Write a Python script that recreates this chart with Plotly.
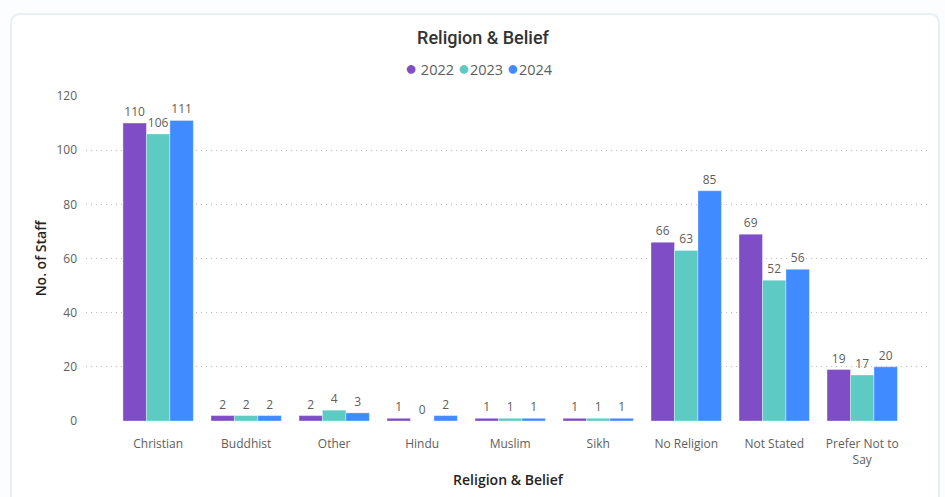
import plotly.graph_objects as go

# Staff counts by religion & belief, per year
categories = ["Christian", "Buddhist", "Other", "Hindu", "Muslim", "Sikh",
              "No Religion", "Not Stated", "Prefer Not to<br>Say"]
years = ["2022", "2023", "2024"]
values_2022 = [110, 2, 2, 1, 1, 1, 66, 69, 19]
values_2023 = [106, 2, 4, 0, 1, 1, 63, 52, 17]
values_2024 = [111, 2, 3, 2, 1, 1, 85, 56, 20]
y_ticks = [0, 20, 40, 60, 80, 100, 120]

colors = ["#7F4DC6", "#5ECAC4", "#3F8BFF"]
series = [values_2022, values_2023, values_2024]

W, H = 945, 497
L, R, T, B = 86, 15, 96, 76
plot_w = W - L - R
plot_h = H - T - B
FONT = "Segoe UI, Open Sans, sans-serif"

fig = go.Figure()

for name, vals, col in zip(years, series, colors):
    fig.add_trace(go.Bar(
        x=categories, y=vals, name=name,
        marker=dict(color=col, line=dict(color="rgba(255,255,255,0.35)", width=1)),
        text=[str(v) for v in vals], textposition="outside",
        textfont=dict(family=FONT, size=12, color="#605E5C"),
        cliponaxis=False, showlegend=False,
    ))


def px_to_paper_x(px):
    return (px - L) / plot_w


def px_to_paper_y(py):
    return (H - B - py) / plot_h


# rounded card behind the visual
x0, x1, y0, y1, r = 11, 939, 14, 520, 10
def P(px, py):
    return f"{px_to_paper_x(px):.5f},{px_to_paper_y(py):.5f}"

card_path = (
    f"M {P(x0 + r, y0)} L {P(x1 - r, y0)} Q {P(x1, y0)} {P(x1, y0 + r)} "
    f"L {P(x1, y1)} L {P(x0, y1)} L {P(x0, y0 + r)} Q {P(x0, y0)} {P(x0 + r, y0)} Z"
)
fig.add_shape(type="path", path=card_path, xref="paper", yref="paper",
              fillcolor="#FFFFFF", line=dict(color="#E6F0F5", width=2), layer="below")

# legend row: coloured dots followed by the year
legend_text = "".join(
    f"<span style='color:{col};font-size:20px'>●</span>"
    f"<span style='font-size:14.5px'>{'' if i else ' '}{name} </span>"
    for i, (name, col) in enumerate(zip(years, colors))
)
fig.add_annotation(text=legend_text.rstrip(), xref="paper", yref="paper",
                   x=px_to_paper_x(480), y=px_to_paper_y(68),
                   xanchor="center", yanchor="middle", showarrow=False,
                   font=dict(family=FONT, color="#605E5C"))

fig.update_layout(
    width=W, height=H,
    margin=dict(l=L, r=R, t=T, b=B, autoexpand=False),
    paper_bgcolor="#FBFDFE", plot_bgcolor="rgba(0,0,0,0)",
    barmode="group", bargap=0.2, bargroupgap=0,
    showlegend=False,
    font=dict(family=FONT, color="#605E5C"),
    title=dict(text="Religion & Belief", x=483 / W, xref="container", xanchor="center",
               y=1 - 38 / H, yref="container", yanchor="middle",
               font=dict(family="Roboto, sans-serif", size=18, color="#333333", weight=500)),
    xaxis=dict(
        range=[-0.82, 8.77], showgrid=False, showline=False, zeroline=False,
        ticks="", ticklabelstandoff=14,
        tickfont=dict(family=FONT, size=12, color="#605E5C"),
        title=dict(text="Religion & Belief", standoff=8,
                   font=dict(family=FONT, size=14, color="#252423", weight=600)),
    ),
    yaxis=dict(
        range=[0, 120], tickvals=y_ticks, showgrid=True, gridcolor="#BDBDBD",
        griddash="1px,4px", gridwidth=1, zeroline=False, showline=False, ticks="",
        ticklabelstandoff=8,
        tickfont=dict(family=FONT, size=12, color="#605E5C"),
        title=dict(text="No. of Staff", standoff=6,
                   font=dict(family=FONT, size=14, color="#252423", weight=600)),
    ),
)

fig.write_html("out.html")
